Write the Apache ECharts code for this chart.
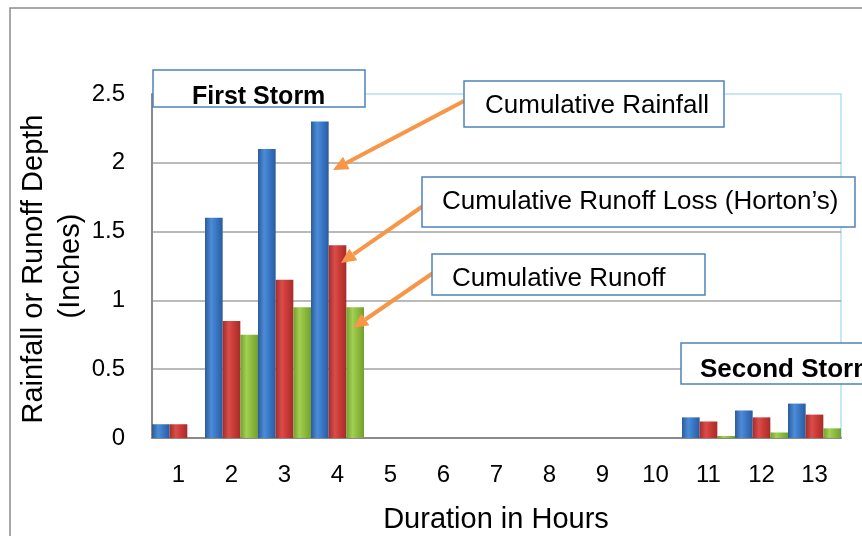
<!DOCTYPE html>
<html>
<head>
<meta charset="utf-8">
<script src="https://cdn.jsdelivr.net/npm/echarts@6/dist/echarts.min.js"></script>
<style>
html,body{margin:0;padding:0;background:#fff;}
#chart{width:862px;height:536px;}
</style>
</head>
<body>
<div id="chart"></div>
<script>
const hours = ['1','2','3','4','5','6','7','8','9','10','11','12','13'];
const cumulativeRainfall = [0.1, 1.6, 2.1, 2.3, 0, 0, 0, 0, 0, 0, 0.15, 0.2, 0.25];
const cumulativeRunoffLoss = [0.1, 0.85, 1.15, 1.4, 0, 0, 0, 0, 0, 0, 0.12, 0.15, 0.17];
const cumulativeRunoff = [0, 0.75, 0.95, 0.95, 0, 0, 0, 0, 0, 0, 0.015, 0.04, 0.07];
const yMin = 0, yMax = 2.5, yStep = 0.5;

const FONT = '"Liberation Sans", Arial, sans-serif';

function grad(edge, mid, hi) {
  return {
    type: 'linear', x: 0, y: 0, x2: 1, y2: 0,
    colorStops: [
      {offset: 0, color: edge},
      {offset: 0.35, color: hi},
      {offset: 0.6, color: mid},
      {offset: 1, color: edge}
    ]
  };
}

function box(x, y, w, h, text, tx, ty, bold, size) {
  return [
    {type: 'rect', z: 100, shape: {x: x, y: y, width: w, height: h},
     style: {fill: '#fff', stroke: '#4f81bd', lineWidth: 1.5}},
    {type: 'text', z: 101, x: tx, y: ty,
     style: {text: text, fill: '#000', font: (bold ? 'bold ' : '') + size + 'px ' + FONT,
             textAlign: 'left', textVerticalAlign: 'middle'}}
  ];
}

function arrow(x1, y1, x2, y2) {
  const ang = Math.atan2(y2 - y1, x2 - x1);
  const L = 15, W = 7;
  const bx = x2 - L * Math.cos(ang), by = y2 - L * Math.sin(ang);
  const px = -Math.sin(ang) * W, py = Math.cos(ang) * W;
  return [
    {type: 'line', z: 99, shape: {x1: x1, y1: y1, x2: bx, y2: by},
     style: {stroke: '#f79646', lineWidth: 4}},
    {type: 'polygon', z: 99, shape: {points: [[x2, y2], [bx + px, by + py], [bx - px, by - py]]},
     style: {fill: '#f79646'}}
  ];
}

const chart = echarts.init(document.getElementById('chart'), null, {renderer: 'canvas'});
const option = {
  backgroundColor: '#fff',
  animation: false,
  grid: {left: 152, right: 21, top: 94, bottom: 98, show: true,
         borderColor: '#b5e0f2', borderWidth: 1.5, backgroundColor: 'transparent'},
  xAxis: {
    type: 'category', data: hours,
    axisLine: {lineStyle: {color: '#8a8a8a', width: 2}},
    axisTick: {show: false},
    axisLabel: {color: '#000', fontSize: 24, fontFamily: FONT, margin: 25}
  },
  yAxis: {
    type: 'value', min: yMin, max: yMax, interval: yStep,
    axisLine: {show: true, lineStyle: {color: '#8a8a8a', width: 2}},
    axisTick: {show: false},
    axisLabel: {color: '#000', fontSize: 24, fontFamily: FONT, margin: 27},
    splitLine: {show: true, showMaxLine: false, lineStyle: {color: '#a3a3a3', width: 1.5}}
  },
  series: [
    {name: 'Cumulative Rainfall', type: 'bar', data: cumulativeRainfall,
     barGap: '0%', barCategoryGap: '0%',
     itemStyle: {color: grad('#2b5b9c', '#3a7ac9', '#4d8cd6')}},
    {name: "Cumulative Runoff Loss (Horton's)", type: 'bar', data: cumulativeRunoffLoss,
     barGap: '0%', barCategoryGap: '0%',
     itemStyle: {color: grad('#a52c2a', '#cc3b38', '#d94e4a')}},
    {name: 'Cumulative Runoff', type: 'bar', data: cumulativeRunoff,
     barGap: '0%', barCategoryGap: '0%',
     itemStyle: {color: grad('#72a030', '#8fbe3f', '#a3cf52')}}
  ],
  graphic: [
    {type: 'rect', z: 0, shape: {x: 10, y: 8, width: 900, height: 600},
     style: {fill: 'none', stroke: '#8c8c8c', lineWidth: 1.5}},
    {type: 'text', z: 50, x: 34, y: 269, rotation: Math.PI / 2,
     style: {text: 'Rainfall or Runoff Depth', fill: '#000', font: '29px ' + FONT,
             textAlign: 'center', textVerticalAlign: 'middle'}},
    {type: 'text', z: 50, x: 71, y: 266, rotation: Math.PI / 2,
     style: {text: '(Inches)', fill: '#000', font: '29px ' + FONT,
             textAlign: 'center', textVerticalAlign: 'middle'}},
    {type: 'text', z: 50, x: 496, y: 520,
     style: {text: 'Duration in Hours', fill: '#000', font: '29px ' + FONT,
             textAlign: 'center', textVerticalAlign: 'middle'}},
    ...arrow(464, 101, 333, 170),
    ...arrow(423, 206, 341, 263),
    ...arrow(433, 273, 353, 328),
    ...box(153, 70, 212, 37, 'First Storm', 192, 97, true, 25),
    ...box(464, 81, 260, 46, 'Cumulative Rainfall', 485, 106, false, 26),
    ...box(422, 177, 433, 50, 'Cumulative Runoff Loss (Horton\u2019s)', 442, 202, false, 26),
    ...box(432, 254, 273, 41, 'Cumulative Runoff', 452, 279, false, 26),
    ...box(681, 343, 200, 41, 'Second Storm', 700, 370, true, 26)
  ]
};
chart.setOption(option);
</script>
</body>
</html>
